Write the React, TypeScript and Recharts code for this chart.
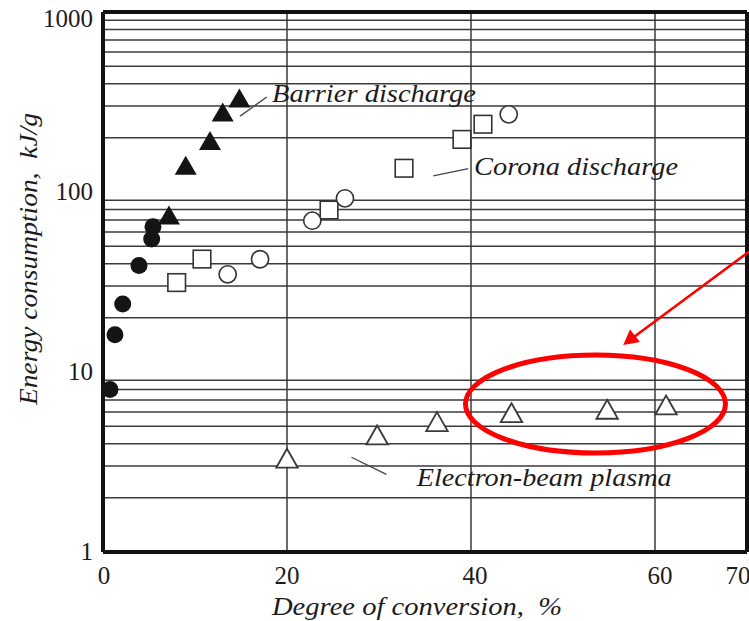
import React from 'react';
import { ScatterChart, Scatter, XAxis, YAxis, CartesianGrid, ReferenceLine, ReferenceDot } from 'recharts';

const xTicks = [0, 20, 40, 60, 70];
const yTicks = [1, 10, 100, 1000];
const xGrid = [20, 40, 60];
const yGrid = [2, 3, 4, 5, 6, 7, 8, 9, 20, 30, 40, 50, 60, 70, 80, 90, 200, 300, 400, 500, 600, 700, 800, 900];

const filledCircles = [
  { x: 0.76, y: 8.0 },
  { x: 1.3, y: 16.1 },
  { x: 2.14, y: 23.9 },
  { x: 3.91, y: 39.0 },
  { x: 5.29, y: 54.8 },
  { x: 5.43, y: 64.2 },
];
const barrierDischarge = [
  { x: 7.17, y: 74.5 },
  { x: 8.99, y: 141 },
  { x: 11.63, y: 193 },
  { x: 13.01, y: 278 },
  { x: 14.82, y: 333 },
];
const coronaSquares = [
  { x: 8.01, y: 31.4 },
  { x: 10.76, y: 42.4 },
  { x: 24.57, y: 79.4 },
  { x: 32.72, y: 135.5 },
  { x: 39.02, y: 196 },
  { x: 41.3, y: 238 },
];
const coronaCircles = [
  { x: 13.55, y: 34.9 },
  { x: 17.07, y: 42.3 },
  { x: 22.75, y: 69.3 },
  { x: 26.3, y: 92.2 },
  { x: 44.1, y: 270 },
];
const electronBeam = [
  { x: 20.0, y: 3.32 },
  { x: 29.8, y: 4.47 },
  { x: 36.3, y: 5.3 },
  { x: 44.4, y: 5.94 },
  { x: 54.8, y: 6.21 },
  { x: 61.2, y: 6.56 },
];

const FONT = '"Liberation Serif", "DejaVu Serif", serif';
const INK = '#1c1c1c';

const FilledCircle = (p: any) => <circle cx={p.cx} cy={p.cy} r={8.5} fill="#141414" />;
const OpenCircle = (p: any) => <circle cx={p.cx} cy={p.cy} r={8.6} fill="#fff" stroke="#333" strokeWidth={1.6} />;
const OpenSquare = (p: any) => (
  <rect x={p.cx - 8.8} y={p.cy - 8.8} width={17.6} height={17.6} fill="#fff" stroke="#333" strokeWidth={1.6} />
);
const tri = (cx: number, cy: number, w: number, h: number) =>
  `${cx},${cy - h / 2} ${cx + w / 2},${cy + h / 2} ${cx - w / 2},${cy + h / 2}`;
const FilledTriangle = (p: any) => <polygon points={tri(p.cx, p.cy, 22, 19)} fill="#141414" />;
const OpenTriangle = (p: any) => (
  <polygon points={tri(p.cx, p.cy, 21.5, 19)} fill="#fff" stroke="#3a3a3a" strokeWidth={1.8} strokeLinejoin="miter" />
);

const YTick = (props: any) => {
  const { x, y, payload } = props;
  const dy = payload.value === 1000 ? 15 : 8.3;
  return (
    <text x={x} y={y + dy} textAnchor="end" fontSize={25} fontFamily={FONT} fill={INK}>
      {payload.value}
    </text>
  );
};
const xShift: Record<number, number> = { 0: 1, 40: 4, 60: 5, 70: -9 };
const XTick = (props: any) => {
  const { x, y, payload } = props;
  return (
    <text x={x + (xShift[payload.value] || 0)} y={y + 32} textAnchor="middle" fontSize={25} fontFamily={FONT} fill={INK}>
      {payload.value}
    </text>
  );
};

const italicText = (text: string, len: number) => (p: any) => (
  <text x={p.cx} y={p.cy} fontSize={25} fontStyle="italic" fontFamily={FONT} fill={INK} textLength={len} lengthAdjust="spacingAndGlyphs">
    {text}
  </text>
);

const Ellipse = (p: any) => <ellipse cx={p.cx} cy={p.cy} rx={130} ry={49} fill="none" stroke="#ff0000" strokeWidth={5} />;
const Arrow = (p: any) => {
  const tx = p.cx;
  const ty = p.cy;
  return (
    <g>
      <line x1={tx + 10} y1={ty - 7.4} x2={tx + 126} y2={ty - 93.5} stroke="#ff0000" strokeWidth={2.6} />
      <polygon points={`${tx},${ty} ${tx + 6.7},${ty - 15.5} ${tx + 16.7},${ty - 3}`} fill="#ff0000" />
    </g>
  );
};

export default function App() {
  return (
    <div style={{ position: 'absolute', left: 0, top: 0, width: 749, height: 621, background: '#fff' }}>
      <ScatterChart width={749} height={621} margin={{ top: 12, right: 2, bottom: 0, left: 0 }}>
        <CartesianGrid
          horizontalValues={yGrid}
          verticalValues={xGrid}
          stroke="#3a3a3a"
          strokeWidth={1.5}
          strokeDasharray=""
        />
        <XAxis
          type="number"
          dataKey="x"
          domain={[0, 70]}
          ticks={xTicks}
          interval={0}
          allowDataOverflow
          height={69}
          tickLine={false}
          tickSize={0}
          tickMargin={0}
          axisLine={{ stroke: '#111', strokeWidth: 4 }}
          tick={<XTick />}
          label={{
            content: () => (
              <text x={272} y={615} fontSize={25} fontStyle="italic" fontFamily={FONT} fill={INK} textLength={290} lengthAdjust="spacingAndGlyphs" style={{ whiteSpace: 'pre' }}>
                {'Degree of conversion,\u00a0\u00a0%'}
              </text>
            ),
          }}
        />
        <YAxis
          type="number"
          dataKey="y"
          scale="log"
          domain={[1, 1000]}
          ticks={yTicks}
          interval={0}
          allowDataOverflow
          width={103}
          tickLine={false}
          tickSize={0}
          tickMargin={10}
          axisLine={{ stroke: '#111', strokeWidth: 4 }}
          tick={<YTick />}
          label={{
            content: () => (
              <text
                transform="translate(37,259) rotate(-90)"
                textAnchor="middle"
                fontSize={25}
                fontStyle="italic"
                fontFamily={FONT}
                fill={INK}
                textLength={292}
                lengthAdjust="spacingAndGlyphs"
              >
                {'Energy consumption,\u00a0\u00a0kJ/g'}
              </text>
            ),
          }}
        />
        <ReferenceLine y={1000} stroke="#111" strokeWidth={4} />
        <ReferenceLine x={70} stroke="#111" strokeWidth={4} />

        <ReferenceLine segment={[{ x: 14.9, y: 264 }, { x: 17.8, y: 337 }]} stroke="#444" strokeWidth={1.3} />
        <ReferenceLine segment={[{ x: 35.9, y: 123 }, { x: 39.7, y: 135 }]} stroke="#444" strokeWidth={1.3} />
        <ReferenceLine segment={[{ x: 27.0, y: 3.36 }, { x: 30.8, y: 2.7 }]} stroke="#444" strokeWidth={1.3} />

        <Scatter name="Filled circles" data={filledCircles} shape={FilledCircle} isAnimationActive={false} />
        <Scatter name="Barrier discharge" data={barrierDischarge} shape={FilledTriangle} isAnimationActive={false} />
        <Scatter name="Corona discharge (squares)" data={coronaSquares} shape={OpenSquare} isAnimationActive={false} />
        <Scatter name="Corona discharge (circles)" data={coronaCircles} shape={OpenCircle} isAnimationActive={false} />
        <Scatter name="Electron-beam plasma" data={electronBeam} shape={OpenTriangle} isAnimationActive={false} />

        <ReferenceDot x={18.37} y={316} shape={italicText('Barrier discharge', 204)} />
        <ReferenceDot x={40.33} y={124.3} shape={italicText('Corona discharge', 204)} />
        <ReferenceDot x={34.1} y={2.326} shape={italicText('Electron-beam plasma', 255)} />
        <ReferenceDot x={53.53} y={6.64} shape={Ellipse} />
        <ReferenceDot x={56.55} y={14.13} shape={Arrow} />
      </ScatterChart>
    </div>
  );
}
